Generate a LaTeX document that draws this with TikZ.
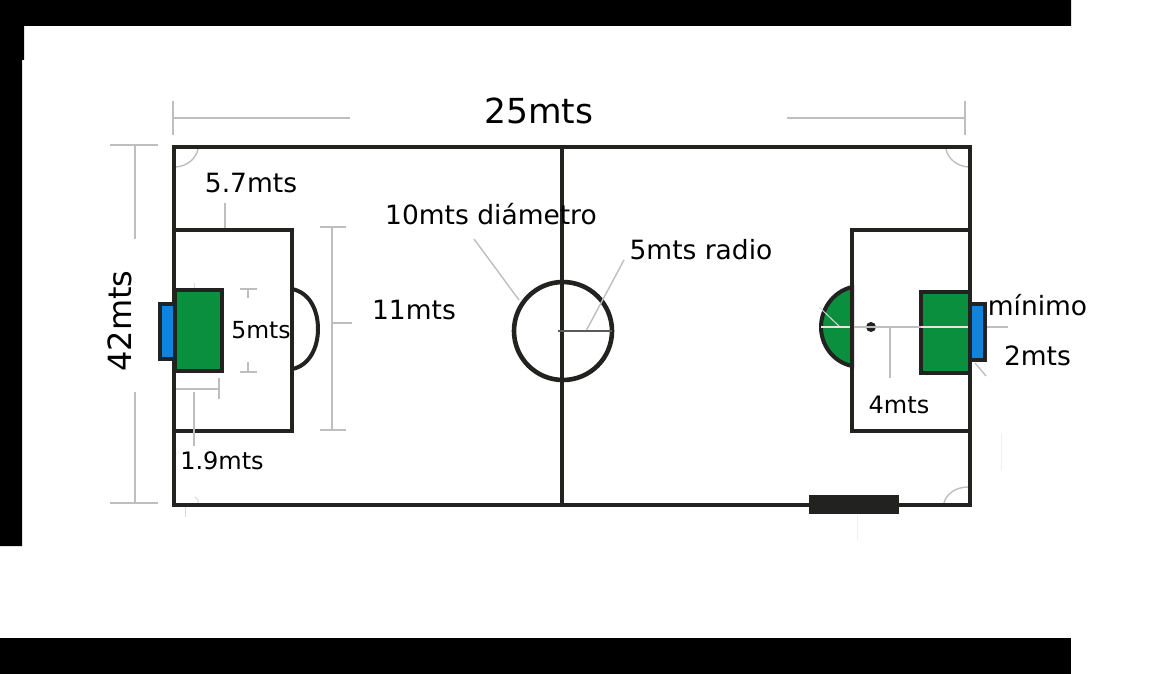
\documentclass[tikz,border=0pt]{standalone}
\usepackage{fontspec}
\setmainfont{DejaVu Sans}
\definecolor{cancha}{RGB}{10,143,62}
\definecolor{arco}{RGB}{14,132,222}
\definecolor{trazo}{RGB}{34,34,32}
\definecolor{cota}{RGB}{190,190,190}
\tikzset{
  linea/.style={draw=trazo, line width=4.6pt},
  fina/.style={draw=trazo, line width=4pt},
  cota/.style={draw=cota, line width=1.4pt},
  claro/.style={draw=cota!60, line width=1pt},
  rotulo/.style={inner sep=0pt, text=black, font=\fontsize{#1}{#1}\selectfont},
}

\begin{document}
\begin{tikzpicture}[x=1pt,y=-1pt]
\useasboundingbox (0,0) rectangle (1159,674);
% bandas negras
\fill[black] (0,0) -- (1071,0) -- (1071,26) -- (24,26) -- (24,60) -- (22,60) -- (22,546) -- (0,546) -- cycle;
\fill[black] (0,638) rectangle (1071,674);
% esquinas
\draw[cota] (176,167) .. controls (187,166) and (196,159) .. (198,149);
\draw[cota] (946,149) .. controls (948,159) and (957,166) .. (968,167);
\draw[cota] (944,503) .. controls (946,494) and (956,487) .. (968,487);
\draw[claro] (185,505) -- (185,517);
\draw[claro] (195,497) .. controls (198,499) and (199,501) .. (198,503);
% cancha
\draw[linea] (174,147) rectangle (970,505);
\draw[linea] (562,147) -- (562,505);
\draw[linea] (563,331) circle[radius=49];
% area izquierda
\draw[fina] (174,230) rectangle (292,431);
\filldraw[fill=arco, fina] (159.5,304) rectangle (175,359);
\filldraw[fill=cancha, fina] (175,290) rectangle (222,371);
\draw[fina] (292,289) .. controls (311,293) and (318,312) .. (318,329) .. controls (318,348) and (309,366) .. (292,369);
% area derecha
\filldraw[fill=cancha, fina] (852,287) .. controls (832,292) and (821,310) .. (821,327) .. controls (821,345) and (833,362) .. (852,366) -- cycle;
\draw[fina] (852,230) rectangle (970,431);
\filldraw[fill=cancha, fina] (921,292) rectangle (970,373);
\filldraw[fill=arco, fina] (970,304) rectangle (985,360);
\fill[trazo] (871,327) circle[radius=5];
\fill[trazo] (809,495) rectangle (899,514);
% cotas
\draw[cota] (173,101) -- (173,135);
\draw[cota] (173,118) -- (350,118);
\draw[cota] (965,101) -- (965,135);
\draw[cota] (787,118) -- (965,118);
\draw[cota] (110,145) -- (158,145);
\draw[cota] (135,145) -- (135,239);
\draw[cota] (135,392) -- (135,503);
\draw[cota] (110,503) -- (158,503);
\draw[cota] (225,203) -- (225,228);
\draw[cota] (320,227) -- (346,227);
\draw[cota] (332,227) -- (332,430);
\draw[cota] (320,430) -- (346,430);
\draw[cota] (332,323) -- (352,323);
\draw[cota] (240,289) -- (257,289);
\draw[cota] (248,289) -- (248,298);
\draw[cota] (240,372) -- (257,372);
\draw[cota] (248,362) -- (248,372);
\draw[claro] (194,283) -- (194,288);
\draw[cota] (176,389) -- (219,389);
\draw[cota] (219,378) -- (219,399);
\draw[cota] (194,392) -- (194,446);
\draw[cota] (474,239) -- (519,300);
\draw[cota] (624,260) -- (586,331);
\draw[draw=trazo!75, line width=1.4pt] (558,331) -- (612,331);
\draw[claro] (819,307) -- (840,327);
\draw[draw=cota!40, line width=1.4pt] (821,327) -- (850,327);
\draw[cota] (854,327) -- (921,327);
\draw[draw=cota!40, line width=1.4pt] (921,327) -- (968,327);
\draw[cota] (987,327) -- (1008,327);
\draw[cota] (890,327) -- (890,378);
\draw[cota] (975,363) -- (986,376);
\draw[draw=cota!25, line width=1pt] (1001,433) -- (1001,470);
\draw[draw=cota!25, line width=1pt] (857,515) -- (857,540);
% textos
\node[rotulo=34.5] (largo) at (539,110.5) {25mts};
\node[rotulo=32, rotate=90] (ancho) at (120,321) {42mts};
\node[rotulo=26.5] (banda) at (251,183.5) {5.7mts};
\node[rotulo=26.5] (diametro) at (491,214) {10mts diámetro};
\node[rotulo=26.5] (radio) at (701,250) {5mts radio};
\node[rotulo=26.5] (area) at (414,310.5) {11mts};
\node[rotulo=23.5] (porteria) at (261,330.5) {5mts};
\node[rotulo=24] (fondo) at (222,461) {1.9mts};
\node[rotulo=24] (penal) at (899,405) {4mts};
\node[rotulo=26.5] (minimo) at (1037.5,305) {mínimo};
\node[rotulo=26.5] (meta) at (1037.5,355.5) {2mts};
\end{tikzpicture}
\end{document}
